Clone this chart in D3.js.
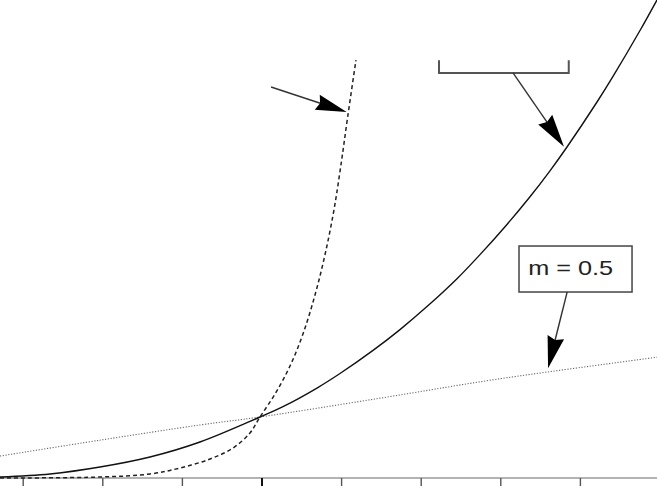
<!DOCTYPE html>
<html>
<head>
<meta charset="utf-8">
<script src="https://cdn.jsdelivr.net/npm/d3@7/dist/d3.min.js"></script>
<style>
  html, body { margin: 0; padding: 0; background: #fff; }
  svg { display: block; }
</style>
</head>
<body>
<svg id="chart" width="657" height="486"></svg>
<script>
// ---- data (x in tick units, y in units where the crossing point = 1) ----
const xTicks = [0, 1, 2, 3, 4, 5, 6, 7];

const solidX = [-0.285, 0.343, 0.971, 1.599, 2.227, 2.981, 3.27, 3.697, 3.986, 4.401, 4.740, 5.079, 5.456, 5.745, 6.084, 6.373, 6.624, 6.838, 7.215, 7.416, 7.755, 7.968];
const solidY = [0.016, 0.066, 0.180, 0.344, 0.590, 1.0, 1.170, 1.475, 1.713, 2.092, 2.433, 2.810, 3.267, 3.662, 4.157, 4.610, 5.036, 5.426, 6.164, 6.584, 7.336, 7.836];

const dashedX = [-0.285, 0.971, 1.599, 1.976, 2.353, 2.642, 2.855, 2.981, 3.170, 3.358, 3.521, 3.672, 3.797, 3.910, 3.998, 4.086, 4.187];
const dashedY = [0.0, 0.016, 0.066, 0.164, 0.311, 0.492, 0.738, 1.0, 1.377, 1.836, 2.361, 3.0, 3.656, 4.393, 5.131, 5.951, 6.852];

const dottedX = [-0.285, 0.97, 2.23, 2.98, 4.45, 5.96, 7.97];
const dottedY = [0.36, 0.62, 0.87, 1.0, 1.30, 1.62, 1.98];

const labelText = "m = 0.5";

// ---- scales ----
const svg = d3.select("#chart");
const x = d3.scaleLinear().domain([0, 7]).range([22.7, 579.9]);
const y = d3.scaleLinear().domain([0, 1]).range([478, 417]);

// ---- axis ----
svg.append("line")
  .attr("x1", 0).attr("x2", 657)
  .attr("y1", y(0)).attr("y2", y(0))
  .attr("stroke", "#9a9a9a").attr("stroke-width", 1.6);

const axis = d3.axisBottom(x).tickValues(xTicks).tickSize(8).tickFormat("");
const gA = svg.append("g").attr("transform", `translate(0,${y(0)})`).call(axis);
gA.select(".domain").remove();
gA.selectAll(".tick line")
  .attr("stroke", (d) => d === 3 ? "#111" : "#555")
  .attr("stroke-width", (d) => d === 3 ? 2 : 1.4);

// ---- curves ----
const line = d3.line().x(d => x(d[0])).y(d => y(d[1])).curve(d3.curveCatmullRom.alpha(0.5));
const zip = (a, b) => a.map((v, i) => [v, b[i]]);

svg.append("path").attr("d", line(zip(dottedX, dottedY)))
  .attr("fill", "none").attr("stroke", "#6a6a6a").attr("stroke-width", 1.1)
  .attr("stroke-dasharray", "1.2,1.6");

svg.append("path").attr("d", line(zip(dashedX, dashedY)))
  .attr("fill", "none").attr("stroke", "#222").attr("stroke-width", 1.5)
  .attr("stroke-dasharray", "4,3");

svg.append("path").attr("d", line(zip(solidX, solidY)))
  .attr("fill", "none").attr("stroke", "#111").attr("stroke-width", 1.4);

// ---- annotations ----
function arrow(x0, y0, x1, y1, headLen, headW) {
  const px0 = x(x0), py0 = y(y0), px1 = x(x1), py1 = y(y1);
  const dx = px1 - px0, dy = py1 - py0, L = Math.hypot(dx, dy);
  const ux = dx / L, uy = dy / L;
  const bx = px1 - ux * headLen, by = py1 - uy * headLen;
  svg.append("line").attr("x1", px0).attr("y1", py0).attr("x2", bx + ux * 4).attr("y2", by + uy * 4)
    .attr("stroke", "#333").attr("stroke-width", 1.4);
  const pts = [
    [px1, py1],
    [bx - uy * headW / 2, by + ux * headW / 2],
    [bx + ux * 3, by + uy * 3],
    [bx + uy * headW / 2, by - ux * headW / 2]
  ];
  svg.append("polygon").attr("points", pts.map(p => p.join(",")).join(" ")).attr("fill", "#000");
}

// left arrow to dashed curve
arrow(3.12, 6.41, 4.07, 6.0, 31, 16);

// bracket (bottom of a clipped box) and arrow to solid curve
svg.append("path")
  .attr("d", `M${x(5.23)},${y(6.85)} L${x(5.23)},${y(6.64)} L${x(6.86)},${y(6.64)} L${x(6.86)},${y(6.85)}`)
  .attr("fill", "none").attr("stroke", "#555").attr("stroke-width", 2);
arrow(6.16, 6.64, 6.80, 5.43, 33, 17);

// m = 0.5 box
svg.append("rect")
  .attr("x", x(6.235)).attr("y", y(3.803))
  .attr("width", x(7.655) - x(6.235)).attr("height", y(3.049) - y(3.803))
  .attr("fill", "#fff").attr("stroke", "#444").attr("stroke-width", 1.5);
svg.append("text")
  .attr("x", x(6.35)).attr("y", y(3.328))
  .attr("font-family", "Liberation Sans, Arial, sans-serif")
  .attr("font-size", 21).attr("fill", "#222")
  .attr("textLength", 85).attr("lengthAdjust", "spacingAndGlyphs")
  .text(labelText);
arrow(6.84, 3.049, 6.60, 1.80, 32, 17);
</script>
</body>
</html>
